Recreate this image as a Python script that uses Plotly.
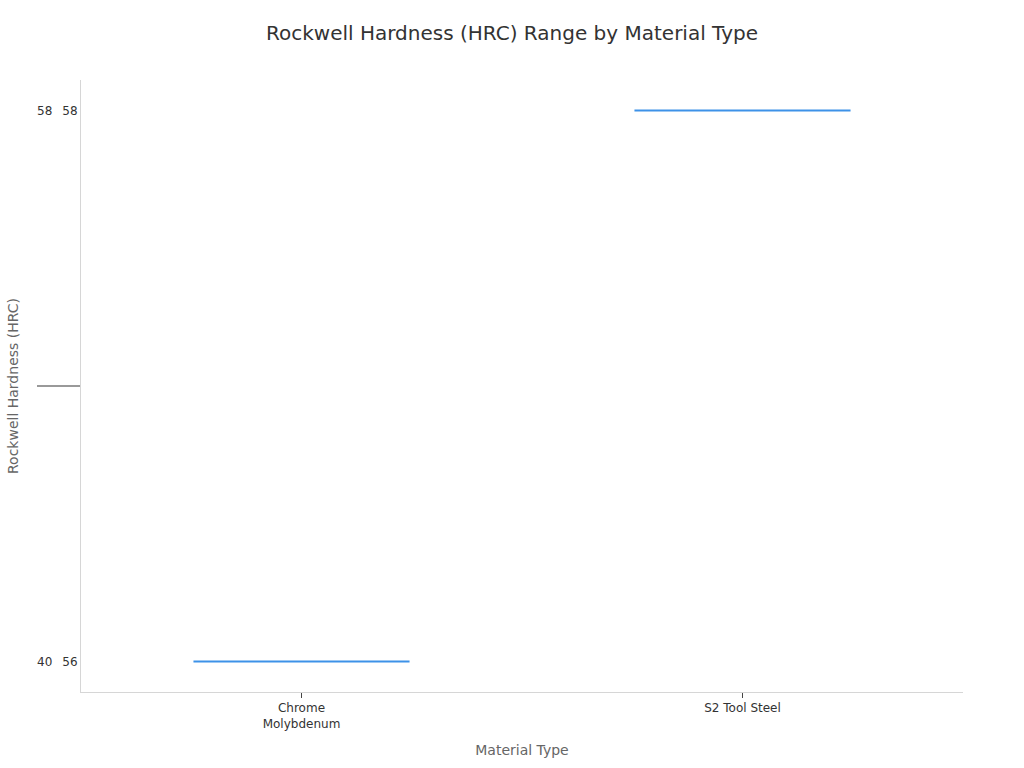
import plotly.graph_objects as go

materials = ["Chrome<br>Molybdenum", "S2 Tool Steel"]
hrc_low = ["40", "58"]
hrc_high = ["56", "58"]

fig = go.Figure()
fig.add_trace(go.Box(
    x=materials,
    y=[hrc_low, hrc_high],
    line=dict(color="#3D92E8", width=2),
    showlegend=False,
))

fig.update_layout(
    width=1024, height=768,
    margin=dict(l=81, r=61, t=80, b=76),
    paper_bgcolor="white", plot_bgcolor="white",
    font=dict(family="DejaVu Sans", size=12, color="#333"),
    title=dict(text="Rockwell Hardness (HRC) Range by Material Type",
               x=0.5, xanchor="center", y=0.957, yanchor="middle",
               font=dict(size=20, color="#333")),
)
fig.update_xaxes(
    automargin=False,
    title=dict(text="Material Type", font=dict(size=14, color="#666")),
    showline=True, linecolor="#d6d6d6", linewidth=1,
    ticks="outside", tickcolor="#444", ticklen=5,
    showgrid=False, zeroline=False,
    tickfont=dict(size=12, color="#333"),
)
fig.update_yaxes(
    automargin=False,
    title=dict(text="Rockwell Hardness (HRC)", font=dict(size=14, color="#666")),
    showline=True, linecolor="#d6d6d6", linewidth=1,
    showgrid=False, zeroline=False,
    dividercolor="#999", dividerwidth=2,
    tickfont=dict(size=12, color="#333"),
)

fig.write_html("out.html", config={"displayModeBar": False},
               post_script="document.body.style.margin='0';")
